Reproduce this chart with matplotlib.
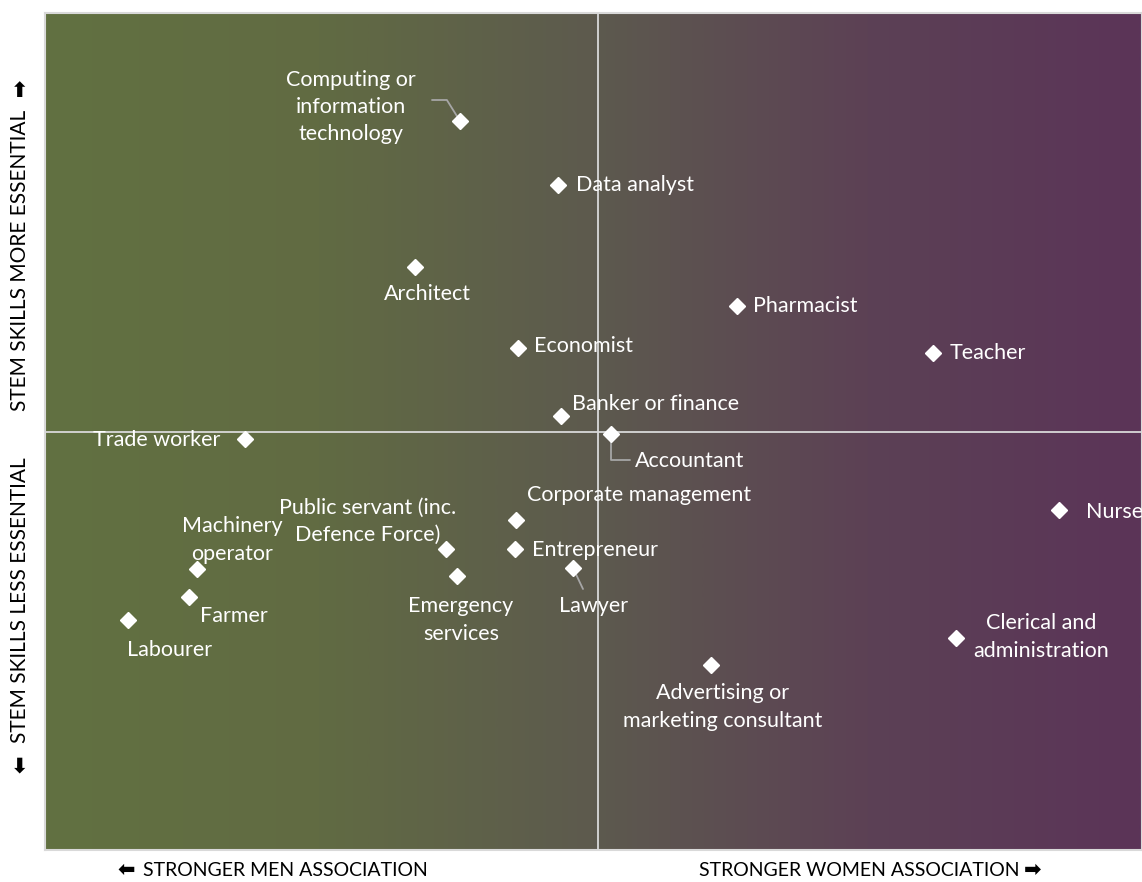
import numpy as np
import matplotlib
matplotlib.use("Agg")
import matplotlib.pyplot as plt
from matplotlib.colors import LinearSegmentedColormap

# occupations: (gender association, STEM essentialness), arbitrary units
jobs = [
    "Computing or\ninformation\ntechnology", "Data analyst", "Architect", "Pharmacist",
    "Economist", "Teacher", "Banker or finance", "Accountant", "Trade worker", "Nurse",
    "Corporate management", "Public servant (inc.\nDefence Force)", "Entrepreneur",
    "Machinery\noperator", "Lawyer", "Emergency\nservices", "Farmer", "Labourer",
    "Clerical and\nadministration", "Advertising or\nmarketing consultant",
]
gender = [-1.38, -0.40, -1.83, 1.39, -0.80, 3.35, -0.37, 0.13, -3.53, 4.61,
          -0.82, -1.52, -0.83, -4.01, -0.25, -1.41, -4.09, -4.70, 3.58, 1.13]
stem = [3.11, 2.47, 1.65, 1.26, 0.84, 0.79, 0.16, -0.02, -0.07, -0.78,
        -0.88, -1.17, -1.17, -1.37, -1.36, -1.44, -1.65, -1.88, -2.06, -2.33]

# label placement (offset pixels, alignment)
label_pos = {
    "Computing or\ninformation\ntechnology": ((-109, 14), "center"),
    "Data analyst": ((18, 0), "left"),
    "Architect": ((12, -27), "center"),
    "Pharmacist": ((16, 0), "left"),
    "Economist": ((16, 2), "left"),
    "Teacher": ((17, 0), "left"),
    "Banker or finance": ((11, 12), "left"),
    "Accountant": ((24, -27), "left"),
    "Trade worker": ((-25, -1), "right"),
    "Nurse": ((27, -2), "left"),
    "Corporate management": ((11, 25), "left"),
    "Public servant (inc.\nDefence Force)": ((-78, 28), "center"),
    "Entrepreneur": ((17, -1), "left"),
    "Machinery\noperator": ((35, 29), "center"),
    "Lawyer": ((21, -38), "center"),
    "Emergency\nservices": ((4, -44), "center"),
    "Farmer": ((11, -19), "left"),
    "Labourer": ((42, -30), "center"),
    "Clerical and\nadministration": ((85, 1), "center"),
    "Advertising or\nmarketing consultant": ((12, -42), "center"),
}

FONT = ["Lato", "DejaVu Sans"]
plt.rcParams["font.family"] = FONT

fig = plt.figure(figsize=(11.42, 8.82), dpi=100)
ax = fig.add_axes([45 / 1142, 32 / 882, 1097 / 1142, 837 / 882])
xlim = (-5.53, 5.44)
ylim = (-4.18, 4.19)

cmap = LinearSegmentedColormap.from_list(
    "bg", ["#627141", "#616b43", "#5d5a4e", "#5c4155", "#5b3458"])
grad = np.linspace(0, 1, 512).reshape(1, -1)
ax.imshow(grad, cmap=cmap, aspect="auto", extent=(*xlim, *ylim), zorder=0)
ax.set_xlim(xlim)
ax.set_ylim(ylim)

ax.axvline(0, color="#d9d9d9", lw=1.3, zorder=1)
ax.axhline(0, color="#d9d9d9", lw=1.3, zorder=1)

ax.plot(gender, stem, "D", color="white", ms=8, mec="white", zorder=4, clip_on=False)

for name, gx, sy in zip(jobs, gender, stem):
    off, ha = label_pos[name]
    ax.annotate(name, (gx, sy), xytext=off, textcoords="offset pixels",
                ha=ha, va="center", color="white", fontsize=15.5,
                linespacing=1.45, zorder=5, annotation_clip=False)

# leader lines
lead = dict(arrowstyle="-", color="#a6a6a6", lw=1.3, shrinkA=0, shrinkB=3)
i = jobs.index("Computing or\ninformation\ntechnology")
ax.annotate("", (gender[i], stem[i]), xytext=(-28, 21), textcoords="offset pixels",
            arrowprops=dict(lead, connectionstyle="angle,angleA=0,angleB=122,rad=0"))
i = jobs.index("Accountant")
ax.annotate("", (gender[i], stem[i]), xytext=(19, -26), textcoords="offset pixels",
            arrowprops=dict(lead, connectionstyle="angle,angleA=0,angleB=90,rad=0"))
i = jobs.index("Lawyer")
ax.annotate("", (gender[i], stem[i]), xytext=(10, -21), textcoords="offset pixels",
            arrowprops=lead)

ax.set_xticks([])
ax.set_yticks([])
for s in ax.spines.values():
    s.set_color("#d9d9d9")
    s.set_linewidth(1.5)

# axis captions
W, H = 1142, 882
cap = dict(va="center", ha="center", color="black", family=FONT)
arr = dict(va="center", ha="center", color="black", family=["DejaVu Sans"],
           fontsize=15, fontweight="bold")
fig.text(20 / W, 1 - 260 / H, "STEM SKILLS MORE ESSENTIAL", rotation=90, fontsize=15, **cap)
fig.text(20 / W, 1 - 91 / H, "\u2b06", **arr)
fig.text(20 / W, 1 - 600 / H, "STEM SKILLS LESS ESSENTIAL", rotation=90, fontsize=15, **cap)
fig.text(20 / W, 1 - 766 / H, "\u2b07", **arr)
fig.text(285 / W, 1 - 870 / H, "STRONGER MEN ASSOCIATION", fontsize=14, **cap)
fig.text(126 / W, 1 - 870 / H, "\u2b05", **arr)
fig.text(859 / W, 1 - 870 / H, "STRONGER WOMEN ASSOCIATION", fontsize=14, **cap)
fig.text(1033 / W, 1 - 870 / H, "\u27a1", **arr)

fig.savefig("out.png", dpi=100)
